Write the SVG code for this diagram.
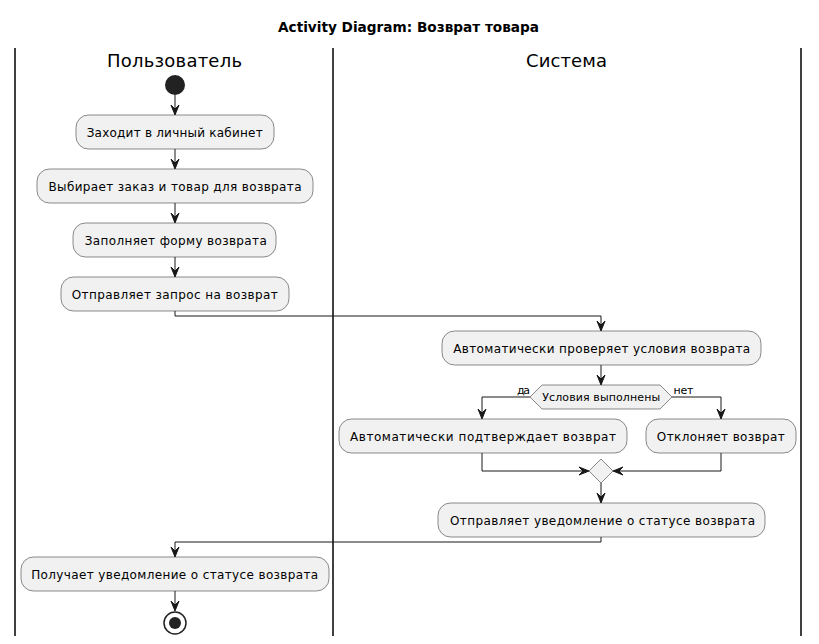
<svg xmlns="http://www.w3.org/2000/svg" width="819" height="644" viewBox="0 0 819 644">
<style>
.lane{stroke:#000;stroke-width:1.5;fill:none}
.act rect{fill:#F1F1F1;stroke:#181818;stroke-width:0.5}
.act text{font-family:"DejaVu Sans",sans-serif;font-size:12px;fill:#000;text-anchor:middle}
.dia polygon{fill:#F1F1F1;stroke:#181818;stroke-width:0.5}
.lbl{font-family:"DejaVu Sans",sans-serif;font-size:11px;fill:#000}
.edge{stroke:#181818;stroke-width:1;fill:none}
.head{fill:#181818;stroke:#181818;stroke-width:1}
.title{font-family:"DejaVu Sans",sans-serif;font-weight:bold;font-size:14px;text-anchor:middle}
.lt{font-family:"DejaVu Sans",sans-serif;font-size:18px;text-anchor:middle}
</style>
<defs>
<polygon id="ad" points="0,0 -4,-10 0,-6 4,-10" class="head"/>
<polygon id="ar" points="0,0 -10,-4 -6,0 -10,4" class="head"/>
<polygon id="al" points="0,0 10,-4 6,0 10,4" class="head"/>
</defs>
<rect width="819" height="644" fill="#FFFFFF"/>
<text class="title" x="408.5" y="32" textLength="261" lengthAdjust="spacingAndGlyphs">Activity Diagram: Возврат товара</text>
<g id="lanes">
<line class="lane" x1="15" y1="48" x2="15" y2="636"/>
<line class="lane" x1="333" y1="48" x2="333" y2="636"/>
<line class="lane" x1="801" y1="48" x2="801" y2="636"/>
<text class="lt" x="174.5" y="67" textLength="135" lengthAdjust="spacing">Пользователь</text>
<text class="lt" x="566.5" y="67" textLength="81" lengthAdjust="spacing">Система</text>
</g>
<g id="connectors">
<line class="edge" x1="175" y1="95" x2="175" y2="114"/><use href="#ad" x="175" y="115"/>
<line class="edge" x1="175" y1="149" x2="175" y2="168"/><use href="#ad" x="175" y="169"/>
<line class="edge" x1="175" y1="203" x2="175" y2="222"/><use href="#ad" x="175" y="223"/>
<line class="edge" x1="175" y1="257" x2="175" y2="276"/><use href="#ad" x="175" y="277"/>
<polyline class="edge" points="175,311 175,316 601,316 601,330"/><use href="#ad" x="601" y="331"/>
<line class="edge" x1="601" y1="365" x2="601" y2="384"/><use href="#ad" x="601" y="385"/>
<polyline class="edge" points="530,397 482,397 482,418"/><use href="#ad" x="482" y="419"/>
<polyline class="edge" points="672,397 721,397 721,418"/><use href="#ad" x="721" y="419"/>
<polyline class="edge" points="482,453 482,471 588,471"/><use href="#ar" x="589" y="471"/>
<polyline class="edge" points="721,453 721,471 614,471"/><use href="#al" x="613" y="471"/>
<line class="edge" x1="601" y1="483" x2="601" y2="502"/><use href="#ad" x="601" y="503"/>
<polyline class="edge" points="601,537 601,542 175,542 175,556"/><use href="#ad" x="175" y="557"/>
<line class="edge" x1="175" y1="591" x2="175" y2="610"/><use href="#ad" x="175" y="611"/>
<text class="lbl" x="517" y="394" textLength="13" lengthAdjust="spacing">да</text>
<text class="lbl" x="673.5" y="394" textLength="20" lengthAdjust="spacing">нет</text>
</g>
<g id="start"><circle cx="175" cy="85" r="10" fill="#222222"/></g>
<g id="a1" class="act"><rect x="76" y="115" width="198" height="34" rx="12.5"/><text x="174.7" y="136.5" textLength="176" lengthAdjust="spacing">Заходит в личный кабинет</text></g>
<g id="a2" class="act"><rect x="37" y="169" width="276" height="34" rx="12.5"/><text x="175" y="190.5" textLength="253" lengthAdjust="spacing">Выбирает заказ и товар для возврата</text></g>
<g id="a3" class="act"><rect x="73" y="223" width="203" height="34" rx="12.5"/><text x="175.8" y="244.5" textLength="182" lengthAdjust="spacing">Заполняет форму возврата</text></g>
<g id="a4" class="act"><rect x="61" y="277" width="228" height="34" rx="12.5"/><text x="174.7" y="298.5" textLength="206" lengthAdjust="spacing">Отправляет запрос на возврат</text></g>
<g id="a5" class="act"><rect x="442" y="331" width="319" height="34" rx="12.5"/><text x="601.7" y="352.5" textLength="297" lengthAdjust="spacing">Автоматически проверяет условия возврата</text></g>
<g id="d1" class="dia"><polygon points="530,397 542,385 660,385 672,397 660,409 542,409"/><text class="lbl" x="601.2" y="401" text-anchor="middle" textLength="118" lengthAdjust="spacing">Условия выполнены</text></g>
<g id="a6" class="act"><rect x="339" y="419" width="288" height="34" rx="12.5"/><text x="483" y="440.5" textLength="266" lengthAdjust="spacing">Автоматически подтверждает возврат</text></g>
<g id="a7" class="act"><rect x="646" y="419" width="150" height="34" rx="12.5"/><text x="720.8" y="440.5" textLength="128" lengthAdjust="spacing">Отклоняет возврат</text></g>
<g id="merge" class="dia"><polygon points="601,459 613,471 601,483 589,471"/></g>
<g id="a8" class="act"><rect x="438" y="503" width="327" height="34" rx="12.5"/><text x="602.5" y="524.5" textLength="305" lengthAdjust="spacing">Отправляет уведомление о статусе возврата</text></g>
<g id="a9" class="act"><rect x="21" y="557" width="308" height="34" rx="12.5"/><text x="174.7" y="578.5" textLength="287" lengthAdjust="spacing">Получает уведомление о статусе возврата</text></g>
<g id="end"><circle cx="175" cy="623" r="11" fill="none" stroke="#222222" stroke-width="1.5"/><circle cx="175" cy="623" r="6" fill="#222222"/></g>
</svg>
